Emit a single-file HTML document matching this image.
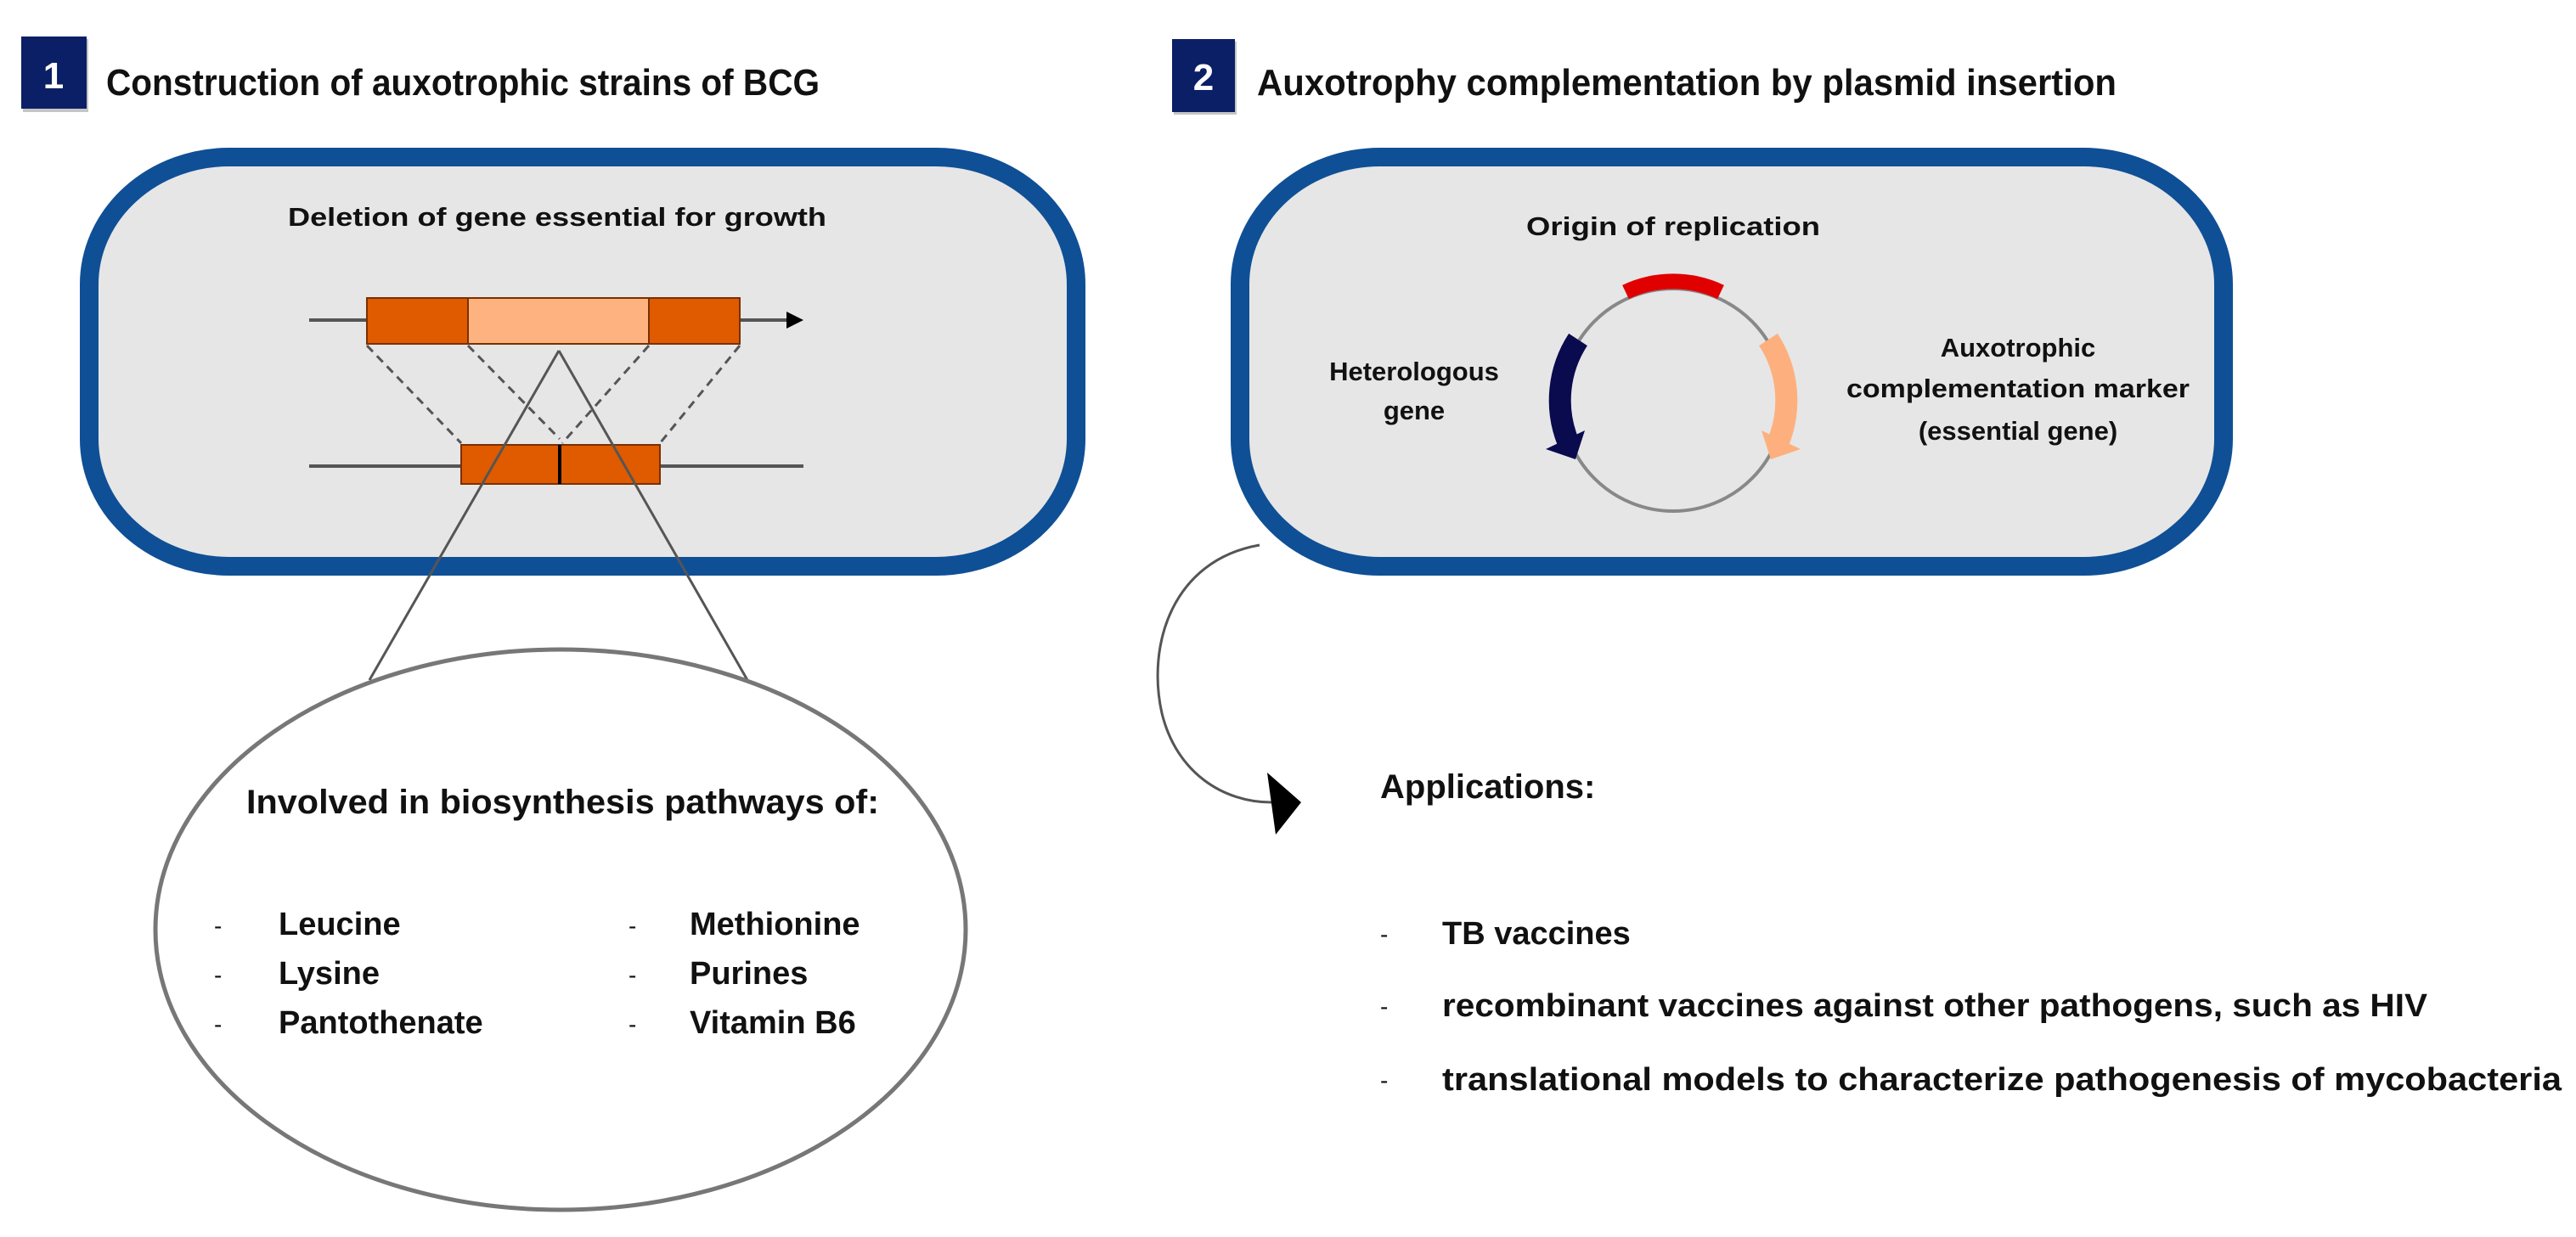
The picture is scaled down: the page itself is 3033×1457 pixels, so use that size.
<!DOCTYPE html>
<html><head><meta charset="utf-8"><style>html,body{margin:0;padding:0;background:#fff}svg{display:block}</style></head>
<body>
<svg width="3033" height="1457" viewBox="0 0 3033 1457" xmlns="http://www.w3.org/2000/svg" font-family="'Liberation Sans', sans-serif" font-weight="bold">
<!-- badges -->
<rect x="27" y="46" width="77" height="86" fill="#5a5a5a" opacity="0.35"/>
<rect x="25" y="43" width="77" height="85" fill="#0b1f66"/>
<text x="63" y="104" font-size="44" fill="#fff" text-anchor="middle">1</text>
<text x="125" y="112" font-size="44" fill="#111" textLength="840" lengthAdjust="spacingAndGlyphs">Construction of auxotrophic strains of BCG</text>
<rect x="1382" y="49" width="74" height="86" fill="#5a5a5a" opacity="0.35"/>
<rect x="1380" y="46" width="74" height="86" fill="#0b1f66"/>
<text x="1417" y="106" font-size="44" fill="#fff" text-anchor="middle">2</text>
<text x="1480" y="112" font-size="44" fill="#111" textLength="1012" lengthAdjust="spacingAndGlyphs">Auxotrophy complementation by plasmid insertion</text>

<!-- cell 1 -->
<rect x="105" y="185" width="1162" height="482" rx="165" ry="150" fill="#e6e6e6" stroke="#0f4f96" stroke-width="22"/>
<text x="656" y="266" font-size="31" fill="#111" text-anchor="middle" textLength="634" lengthAdjust="spacingAndGlyphs">Deletion of gene essential for growth</text>
<line x1="364" y1="377" x2="930" y2="377" stroke="#555" stroke-width="4"/>
<polygon points="926,367 946,377 926,387" fill="#000"/>
<rect x="432" y="351" width="119" height="54" fill="#e05a00" stroke="#7a3000" stroke-width="2"/>
<rect x="551" y="351" width="213" height="54" fill="#fdb27f" stroke="#7a3000" stroke-width="2"/>
<rect x="764" y="351" width="107" height="54" fill="#e05a00" stroke="#7a3000" stroke-width="2"/>
<line x1="364" y1="549" x2="946" y2="549" stroke="#555" stroke-width="4"/>
<rect x="543" y="524" width="116" height="46" fill="#e05a00" stroke="#7a3000" stroke-width="2"/>
<rect x="659" y="524" width="118" height="46" fill="#e05a00" stroke="#7a3000" stroke-width="2"/>
<line x1="659" y1="524" x2="659" y2="570" stroke="#000" stroke-width="4"/>
<g stroke="#555" stroke-width="3" stroke-dasharray="10,7">
<line x1="432" y1="407" x2="543" y2="522"/>
<line x1="551" y1="407" x2="659" y2="517"/>
<line x1="764" y1="407" x2="662" y2="522"/>
<line x1="871" y1="407" x2="777" y2="522"/>
</g>
<line x1="658" y1="413" x2="435" y2="801" stroke="#555" stroke-width="3"/>
<line x1="658" y1="413" x2="880" y2="801" stroke="#555" stroke-width="3"/>

<!-- ellipse -->
<ellipse cx="660" cy="1095" rx="477" ry="330" fill="#fff" stroke="#777" stroke-width="5"/>
<text x="290" y="958" font-size="40" fill="#111" textLength="745" lengthAdjust="spacingAndGlyphs">Involved in biosynthesis pathways of:</text>
<g font-size="38" fill="#111">
<text x="252" y="1100" font-weight="normal" font-size="28">-</text>
<text x="252" y="1158" font-weight="normal" font-size="28">-</text>
<text x="252" y="1216" font-weight="normal" font-size="28">-</text>
<text x="328" y="1101">Leucine</text>
<text x="328" y="1159">Lysine</text>
<text x="328" y="1217">Pantothenate</text>
<text x="740" y="1100" font-weight="normal" font-size="28">-</text>
<text x="740" y="1158" font-weight="normal" font-size="28">-</text>
<text x="740" y="1216" font-weight="normal" font-size="28">-</text>
<text x="812" y="1101">Methionine</text>
<text x="812" y="1159">Purines</text>
<text x="812" y="1217">Vitamin B6</text>
</g>

<!-- cell 2 -->
<rect x="1460" y="185" width="1158" height="482" rx="165" ry="150" fill="#e6e6e6" stroke="#0f4f96" stroke-width="22"/>
<text x="1970" y="277" font-size="31" fill="#111" text-anchor="middle" textLength="346" lengthAdjust="spacingAndGlyphs">Origin of replication</text>
<circle cx="1970" cy="471" r="131" fill="none" stroke="#888" stroke-width="4"/>
<path d="M1914,344 A131,131 0 0 1 2026,344" fill="none" stroke="#e00000" stroke-width="18"/>
<path d="M1858,400 A131,131 0 0 0 1846,520" fill="none" stroke="#0a0a4f" stroke-width="26"/>
<polygon points="1820,529 1866,507 1855,541" fill="#0a0a4f"/>
<path d="M2082,400 A131,131 0 0 1 2094,520" fill="none" stroke="#fdb07e" stroke-width="26"/>
<polygon points="2120,529 2074,507 2085,541" fill="#fdb07e"/>
<g font-size="31" fill="#111" text-anchor="middle">
<text x="1665" y="448">Heterologous</text>
<text x="1665" y="494">gene</text>
<text x="2376" y="420">Auxotrophic</text>
<text x="2376" y="468" textLength="404" lengthAdjust="spacingAndGlyphs">complementation marker</text>
<text x="2376" y="518">(essential gene)</text>
</g>

<!-- curved arrow -->
<path d="M1483,642 C1380,660 1350,760 1368,840 C1385,910 1440,945 1497,945" fill="none" stroke="#555" stroke-width="3"/>
<polygon points="1492,910 1532,945 1502,983" fill="#000"/>

<!-- applications -->
<g fill="#111">
<text x="1625" y="940" font-size="40">Applications:</text>
<text x="1625" y="1110" font-size="28" font-weight="normal">-</text>
<text x="1625" y="1195" font-size="28" font-weight="normal">-</text>
<text x="1625" y="1282" font-size="28" font-weight="normal">-</text>
<text x="1698" y="1112" font-size="38">TB vaccines</text>
<text x="1698" y="1197" font-size="38" textLength="1160" lengthAdjust="spacingAndGlyphs">recombinant vaccines against other pathogens, such as HIV</text>
<text x="1698" y="1284" font-size="38" textLength="1318" lengthAdjust="spacingAndGlyphs">translational models to characterize pathogenesis of mycobacteria</text>
</g>
</svg>
</body></html>
